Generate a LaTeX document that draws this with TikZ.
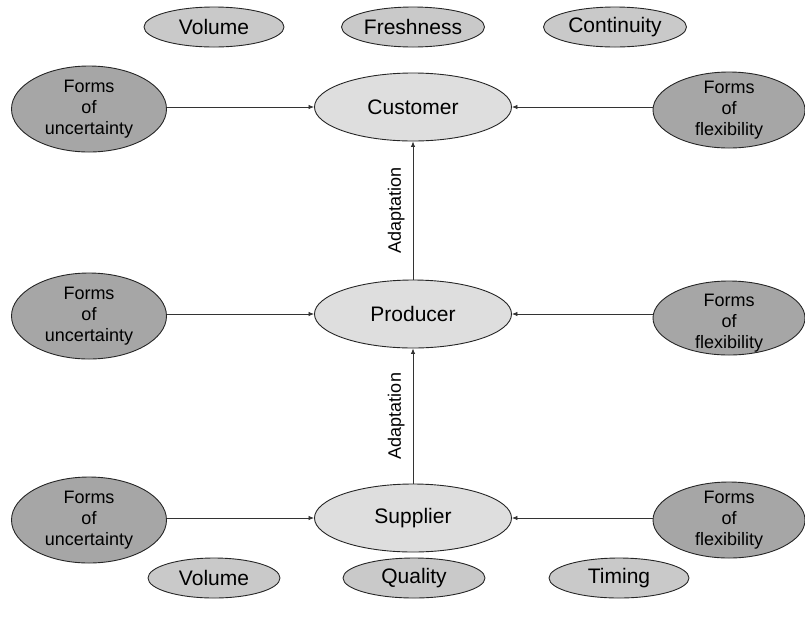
\documentclass[tikz,border=0pt]{standalone}
\usepackage{fontspec}
\setmainfont{Liberation Sans}
\usetikzlibrary{shapes.geometric,arrows.meta}
\begin{document}
\begin{tikzpicture}[x=1pt,y=-1pt,
  central/.style={ellipse,draw=black!85,line width=0.9pt,fill=black!13,minimum width=197pt,minimum height=68pt,inner sep=0pt,font=\fontsize{21}{24}\selectfont},
  sideu/.style={ellipse,draw=black!85,line width=0.9pt,fill=black!35,minimum width=155pt,minimum height=86pt,inner sep=0pt,
     label={[font=\fontsize{18}{21}\selectfont,align=center,inner sep=0pt]center:#1}},
  sidef/.style={ellipse,draw=black!85,line width=0.9pt,fill=black!35,minimum width=152pt,minimum height=76pt,inner sep=0pt,
     label={[font=\fontsize{18}{21}\selectfont,align=center,inner sep=0pt]center:#1}},
  sidefl/.style={ellipse,draw=black!85,line width=0.9pt,fill=black!35,minimum width=152pt,minimum height=74pt,inner sep=0pt,
     label={[font=\fontsize{18}{21}\selectfont,align=center,inner sep=0pt,yshift=-5pt]center:#1}},
  attr/.style={ellipse,draw=black!85,line width=0.9pt,fill=black!21,minimum width=140pt,minimum height=40pt,inner sep=0pt,font=\fontsize{21}{24}\selectfont},
  conn/.style={draw=black!80,line width=0.8pt,-{Latex[length=5.5pt,width=4.5pt]}},
  lbl/.style={font=\fontsize{18}{21}\selectfont,rotate=90,inner sep=8pt}
]
\useasboundingbox (0,0) rectangle (805,625);
% top attributes
\node[attr] (tvol) at (214,27) {Volume};
\node[attr,minimum width=143pt] (tfresh) at (413,27) {Freshness};
\node[attr,minimum width=143pt] (tcont) at (615,27) {Continuity};
% central chain
\node[central] (cust) at (413,107) {Customer};
\node[central] (prod) at (413,314) {Producer};
\node[central] (supp) at (413,518) {Supplier};
% sides
\node[sideu={Forms\\of\\uncertainty}] (u1) at (89,109) {};
\node[sideu={Forms\\of\\uncertainty}] (u2) at (89,316) {};
\node[sideu={Forms\\of\\uncertainty}] (u3) at (89,520) {};
\node[sidef={Forms\\of\\flexibility}] (f1) at (729,110) {};
\node[sidefl={Forms\\of\\flexibility}] (f2) at (729,318) {};
\node[sidef={Forms\\of\\flexibility}] (f3) at (729,520) {};
% bottom attributes
\node[attr,minimum width=132pt] (bvol) at (214,578) {Volume};
\node[attr,minimum width=142pt] (bqual) at (414,578) {Quality};
\node[attr,minimum width=140pt] (btime) at (619,578) {Timing};
% connectors
\draw[conn] (cust.west -| u1.east) -- (cust.west);
\draw[conn] (cust.east -| f1.west) -- (cust.east);
\draw[conn] (prod.west -| u2.east) -- (prod.west);
\draw[conn] (prod.east -| f2.west) -- (prod.east);
\draw[conn] (supp.west -| u3.east) -- (supp.west);
\draw[conn] (supp.east -| f3.west) -- (supp.east);
\draw[conn] (prod) -- node[lbl,above] {Adaptation} (cust);
\draw[conn] (supp) -- node[lbl,above] {Adaptation} (prod);
\end{tikzpicture}
\end{document}
